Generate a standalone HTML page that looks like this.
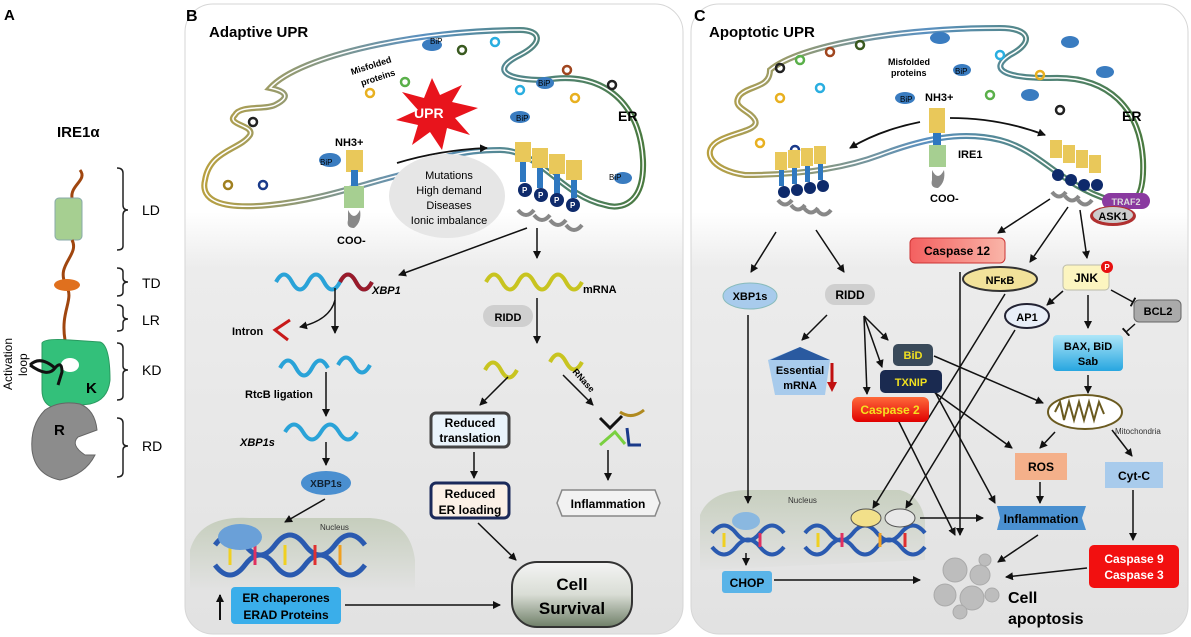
<!DOCTYPE html>
<html><head><meta charset="utf-8"><style>
html,body{margin:0;padding:0;background:#fff}
svg{display:block;font-family:"Liberation Sans",Arial,sans-serif}
</style></head><body>
<svg width="1191" height="637" viewBox="0 0 1191 637" xmlns="http://www.w3.org/2000/svg">
<defs>
<linearGradient id="pbg" x1="0" y1="0" x2="0" y2="1">
<stop offset="0" stop-color="#fff"/><stop offset="0.33" stop-color="#fff"/><stop offset="0.42" stop-color="#ececec"/><stop offset="1" stop-color="#e2e2e2"/></linearGradient>
<linearGradient id="nuc" x1="0" y1="0" x2="0" y2="1"><stop offset="0" stop-color="#c2cbb8"/><stop offset="1" stop-color="#e2e2e2"/></linearGradient>
<linearGradient id="surv" x1="0" y1="0" x2="0" y2="1"><stop offset="0" stop-color="#f4f4f4"/><stop offset="0.5" stop-color="#d9ddd5"/><stop offset="1" stop-color="#6f7f68"/></linearGradient>
<linearGradient id="red" x1="0" y1="0" x2="0" y2="1"><stop offset="0" stop-color="#ff6a3a"/><stop offset="1" stop-color="#e00000"/></linearGradient>
<linearGradient id="c12" x1="0" y1="0" x2="1" y2="0"><stop offset="0" stop-color="#f46060"/><stop offset="1" stop-color="#f9b5a8"/></linearGradient>
<linearGradient id="blu" x1="0" y1="0" x2="0" y2="1"><stop offset="0" stop-color="#aee6f8"/><stop offset="1" stop-color="#27a6e0"/></linearGradient>
<linearGradient id="erg" x1="0" y1="0" x2="1" y2="0"><stop offset="0" stop-color="#b8a040"/><stop offset="0.5" stop-color="#5a90c0"/><stop offset="1" stop-color="#4a7a40"/></linearGradient>
<marker id="a" markerWidth="8" markerHeight="8" refX="7" refY="4" orient="auto" markerUnits="userSpaceOnUse"><path d="M0,0 L8,4 L0,8 Z" fill="#111"/></marker>
<marker id="t" markerWidth="2" markerHeight="10" refX="1" refY="5" orient="auto" markerUnits="userSpaceOnUse"><rect width="2" height="10" fill="#111"/></marker>
</defs>

<!-- Panel A -->
<text x="4" y="20" font-size="15" font-weight="bold">A</text>
<text x="57" y="137" font-size="15" font-weight="bold">IRE1α</text>
<path d="M80,170 C88,180 70,185 72,198" stroke="#a0460f" stroke-width="3" fill="none"/>
<rect x="55" y="198" width="27" height="42" rx="4" fill="#a6cf91" stroke="#8aa"/>
<path d="M72,240 C80,255 55,265 66,285 C75,300 60,310 65,340" stroke="#a0460f" stroke-width="3" fill="none"/>
<ellipse cx="67" cy="285" rx="13" ry="6" fill="#e0701e"/>
<path d="M42,343 Q45,338 70,340 L100,342 Q110,345 110,380 Q108,400 90,404 L55,408 Q42,405 42,390 Z" fill="#33c07a" stroke="#2a9a60"/>
<ellipse cx="70" cy="365" rx="9" ry="7" fill="#fff"/>
<path d="M30,365 Q40,355 55,368 Q48,378 30,365 M55,368 Q62,360 62,372 L58,385" stroke="#111" stroke-width="3" fill="none"/>
<text x="86" y="393" font-size="15" font-weight="bold">K</text>
<path d="M45,410 Q60,400 80,404 Q95,410 97,430 L78,437 Q70,445 85,455 L95,455 Q85,475 60,480 Q35,475 32,450 Q30,425 45,410 Z" fill="#8c8c8c" stroke="#666"/>
<text x="54" y="435" font-size="15" font-weight="bold">R</text>
<text transform="translate(12,390) rotate(-90)" font-size="12">Activation</text>
<text transform="translate(27,376) rotate(-90)" font-size="12">loop</text>
<g stroke="#222" stroke-width="1.5" fill="none">
<path d="M117,168 Q123,168 123,173 V205 Q123,210 128,210 Q123,210 123,215 V246 Q123,250 117,250"/>
<path d="M117,268 Q123,268 123,272 V278 Q123,282 128,282 Q123,282 123,286 V292 Q123,296 117,296"/>
<path d="M117,305 Q123,305 123,309 V315 Q123,319 128,319 Q123,319 123,323 V328 Q123,331 117,331"/>
<path d="M117,343 Q123,343 123,348 V366 Q123,370 128,370 Q123,370 123,374 V396 Q123,400 117,400"/>
<path d="M117,418 Q123,418 123,423 V442 Q123,446 128,446 Q123,446 123,450 V472 Q123,477 117,477"/>
</g>
<g font-size="14"><text x="142" y="215">LD</text><text x="142" y="288">TD</text><text x="142" y="325">LR</text><text x="142" y="375">KD</text><text x="142" y="451">RD</text></g>

<!-- Panel backgrounds -->
<rect x="185" y="4" width="498" height="630" rx="28" fill="url(#pbg)" stroke="#d6d6d6"/>
<rect x="691" y="4" width="497" height="630" rx="28" fill="url(#pbg)" stroke="#d6d6d6"/>
<text x="186" y="21" font-size="16" font-weight="bold">B</text>
<text x="209" y="37" font-size="15" font-weight="bold">Adaptive UPR</text>
<!-- ER B -->
<path id="erB" d="M270,88 C300,55 420,30 520,30 C540,30 545,42 520,55 C490,70 505,80 545,80 C600,70 640,100 643,160 C645,205 620,210 605,205 C560,195 540,150 500,150 C440,150 420,170 400,175 C360,185 320,200 270,205 C220,210 200,200 205,180 C210,150 240,150 250,135 C255,125 225,125 235,115 C240,105 265,110 275,105 C295,95 280,90 270,88 Z" fill="#fff" stroke="url(#erg)" stroke-width="6"/>
<path d="M270,88 C300,55 420,30 520,30 C540,30 545,42 520,55 C490,70 505,80 545,80 C600,70 640,100 643,160 C645,205 620,210 605,205 C560,195 540,150 500,150 C440,150 420,170 400,175 C360,185 320,200 270,205 C220,210 200,200 205,180 C210,150 240,150 250,135 C255,125 225,125 235,115 C240,105 265,110 275,105 C295,95 280,90 270,88 Z" fill="none" stroke="#fff" stroke-width="1.5"/>
<text transform="translate(352,75) rotate(-18)" font-size="9" font-weight="bold">Misfolded</text>
<text transform="translate(362,86) rotate(-18)" font-size="9" font-weight="bold">proteins</text>
<polygon points="432,78 440,95 462,85 452,102 478,108 455,118 470,135 447,128 442,150 430,132 412,145 418,125 396,120 418,110 402,92 424,98" fill="#e8141c"/>
<text x="414" y="118" font-size="14" font-weight="bold" fill="#fff">UPR</text>
<text x="618" y="121" font-size="14" font-weight="bold">ER</text>
<text x="335" y="146" font-size="11" font-weight="bold">NH3+</text>
<rect x="346" y="150" width="17" height="22" fill="#e9c85a"/><rect x="351" y="170" width="7" height="16" fill="#2f78c0"/>
<rect x="344" y="186" width="20" height="22" fill="#a6cf91"/>
<path d="M348,210 q6,12 12,0 q2,12 -6,18 q-8,0 -6,-8" fill="#888"/>
<text x="337" y="244" font-size="11" font-weight="bold">COO-</text>
<ellipse cx="330" cy="160" rx="11" ry="7" fill="#3a7cc0"/><text x="320" y="165" font-size="8">BiP</text>
<path d="M397,163 Q440,150 487,148" stroke="#111" stroke-width="1.8" fill="none" marker-end="url(#a)"/>
<ellipse cx="447" cy="196" rx="58" ry="42" fill="#e6e6e6"/>
<g font-size="11" text-anchor="middle"><text x="449" y="179">Mutations</text><text x="449" y="194">High demand</text><text x="449" y="209">Diseases</text><text x="449" y="224">Ionic imbalance</text></g>
<g>
<rect x="515" y="142" width="16" height="20" fill="#e9c85a"/><rect x="532" y="148" width="16" height="20" fill="#e9c85a"/><rect x="549" y="154" width="16" height="20" fill="#e9c85a"/><rect x="566" y="160" width="16" height="20" fill="#e9c85a"/>
<rect x="520" y="162" width="6" height="20" fill="#2f78c0"/><rect x="537" y="168" width="6" height="20" fill="#2f78c0"/><rect x="554" y="174" width="6" height="20" fill="#2f78c0"/><rect x="571" y="180" width="6" height="18" fill="#2f78c0"/>
<circle cx="525" cy="190" r="7" fill="#0e2a6b"/><circle cx="541" cy="195" r="7" fill="#0e2a6b"/><circle cx="557" cy="200" r="7" fill="#0e2a6b"/><circle cx="573" cy="205" r="7" fill="#0e2a6b"/>
<g fill="#fff" font-size="8" font-weight="bold"><text x="522" y="193">P</text><text x="538" y="198">P</text><text x="554" y="203">P</text><text x="570" y="208">P</text></g>
<path d="M518,210 q8,10 16,0 M534,215 q8,10 16,0 M550,220 q8,10 16,0 M566,225 q8,10 16,0" stroke="#888" stroke-width="4" fill="none"/>
</g>
<g font-size="8"><ellipse cx="432" cy="45" rx="10" ry="6" fill="#3a7cc0"/><text x="430" y="44">BiP</text>
<ellipse cx="545" cy="83" rx="9" ry="6" fill="#3a7cc0"/><text x="538" y="86">BiP</text>
<ellipse cx="520" cy="117" rx="10" ry="6" fill="#3a7cc0"/><text x="516" y="121">BiP</text>
<ellipse cx="623" cy="178" rx="9" ry="6" fill="#3a7cc0"/><text x="609" y="180">BiP</text></g>
<g fill="none" stroke-width="2.5"><circle cx="462" cy="50" r="4" stroke="#3a5a20"/><circle cx="495" cy="42" r="4" stroke="#2aaee0"/><circle cx="405" cy="82" r="4" stroke="#5ab04a"/><circle cx="370" cy="93" r="4" stroke="#e8b020"/><circle cx="253" cy="122" r="4" stroke="#222"/><circle cx="228" cy="185" r="4" stroke="#a08020"/><circle cx="263" cy="185" r="4" stroke="#1a3a8a"/><circle cx="520" cy="90" r="4" stroke="#2aaee0"/><circle cx="575" cy="98" r="4" stroke="#e8b020"/><circle cx="612" cy="85" r="4" stroke="#222"/><circle cx="567" cy="70" r="4" stroke="#a0461f"/></g>
<!-- B lower -->
<path d="M190,590 L190,550 Q200,515 250,518 L370,518 Q410,520 415,560 L415,590 Z" fill="url(#nuc)" opacity="0.9"/>
<line x1="527" y1="228" x2="399" y2="275" stroke="#111" stroke-width="1.5" marker-end="url(#a)"/>
<line x1="537" y1="228" x2="537" y2="258" stroke="#111" stroke-width="1.5" marker-end="url(#a)"/>
<path d="M276,282 q8,-15 16,0 t16,0 t16,0 t16,0 t16,0 t16,0" stroke="#2aa3d8" stroke-width="4" fill="none"/>
<path d="M340,282 q8,-15 16,0 t16,0" stroke="#9a1a2a" stroke-width="4" fill="none"/>
<text x="372" y="294" font-size="11" font-weight="bold" font-style="italic">XBP1</text>
<path d="M486,282 q8,-15 16,0 t16,0 t16,0 t16,0 t16,0 t16,0" stroke="#c8c420" stroke-width="4" fill="none"/>
<text x="583" y="293" font-size="11" font-weight="bold">mRNA</text>
<rect x="483" y="305" width="50" height="22" rx="11" fill="#cfcfcf"/><text x="508" y="321" font-size="11" font-weight="bold" text-anchor="middle">RIDD</text>
<line x1="537" y1="298" x2="537" y2="343" stroke="#111" stroke-width="1.5" marker-end="url(#a)"/>
<path d="M485,370 q8,-15 16,0 t16,0" stroke="#c8c420" stroke-width="4" fill="none"/><path d="M550,362 q8,-15 16,0 t16,0" stroke="#c8c420" stroke-width="4" fill="none"/>
<line x1="335" y1="288" x2="335" y2="333" stroke="#111" stroke-width="1.5" marker-end="url(#a)"/>
<path d="M335,300 Q330,320 300,327" stroke="#111" stroke-width="1.5" fill="none" marker-end="url(#a)"/>
<text x="232" y="335" font-size="11" font-weight="bold">Intron</text>
<path d="M290,320 L275,330 L288,340" stroke="#c81a1a" stroke-width="3" fill="none"/>
<path d="M280,368 q8,-15 16,0 t16,0 t16,0" stroke="#2aa3d8" stroke-width="4" fill="none"/><path d="M338,365 q8,-15 16,0 t16,0" stroke="#2aa3d8" stroke-width="4" fill="none"/>
<line x1="326" y1="372" x2="326" y2="416" stroke="#111" stroke-width="1.5" marker-end="url(#a)"/>
<text x="245" y="398" font-size="11" font-weight="bold">RtcB ligation</text>
<path d="M285,432 q9,-15 18,0 t18,0 t18,0 t18,0" stroke="#2aa3d8" stroke-width="4" fill="none"/>
<text x="240" y="446" font-size="11" font-weight="bold" font-style="italic">XBP1s</text>
<line x1="326" y1="442" x2="326" y2="465" stroke="#111" stroke-width="1.5" marker-end="url(#a)"/>
<ellipse cx="326" cy="483" rx="25" ry="12" fill="#4a8fd0"/><text x="326" y="487" font-size="10" font-weight="bold" text-anchor="middle" fill="#123">XBP1s</text>
<line x1="325" y1="499" x2="285" y2="522" stroke="#111" stroke-width="1.5" marker-end="url(#a)"/>
<text x="320" y="530" font-size="8" fill="#333">Nucleus</text>
<path d="M215,545 q15,-20 30,0 t30,0 t30,0 t30,0 t30,0 M215,565 q15,20 30,0 t30,0 t30,0 t30,0 t30,0" stroke="#2a5ab0" stroke-width="5" fill="none"/>
<g stroke-width="3"><line x1="230" y1="545" x2="230" y2="565" stroke="#f0d020"/><line x1="255" y1="545" x2="255" y2="565" stroke="#e03060"/><line x1="285" y1="545" x2="285" y2="565" stroke="#f0d020"/><line x1="315" y1="545" x2="315" y2="565" stroke="#e03030"/><line x1="340" y1="545" x2="340" y2="565" stroke="#f0a020"/></g>
<ellipse cx="240" cy="537" rx="22" ry="13" fill="#6aa0d8"/>
<rect x="231" y="587" width="110" height="37" rx="4" fill="#3aaeea"/>
<g font-size="12" font-weight="bold" text-anchor="middle"><text x="286" y="602">ER chaperones</text><text x="286" y="619">ERAD Proteins</text></g>
<line x1="220" y1="620" x2="220" y2="595" stroke="#111" stroke-width="2" marker-end="url(#a)"/>
<line x1="345" y1="605" x2="500" y2="605" stroke="#111" stroke-width="1.5" marker-end="url(#a)"/>
<line x1="508" y1="377" x2="480" y2="405" stroke="#111" stroke-width="1.5" marker-end="url(#a)"/>
<rect x="431" y="413" width="78" height="34" rx="5" fill="#eaf4fb" stroke="#444" stroke-width="3"/>
<g font-size="12" font-weight="bold" text-anchor="middle"><text x="470" y="427">Reduced</text><text x="470" y="442">translation</text></g>
<line x1="474" y1="452" x2="474" y2="478" stroke="#111" stroke-width="1.5" marker-end="url(#a)"/>
<rect x="431" y="483" width="78" height="35" rx="5" fill="#fbf0e6" stroke="#1c2a5a" stroke-width="3"/>
<g font-size="12" font-weight="bold" text-anchor="middle"><text x="470" y="498">Reduced</text><text x="470" y="514">ER loading</text></g>
<line x1="478" y1="523" x2="516" y2="560" stroke="#111" stroke-width="1.5" marker-end="url(#a)"/>
<rect x="512" y="562" width="120" height="65" rx="25" fill="url(#surv)" stroke="#333" stroke-width="2"/>
<g font-size="17" font-weight="bold" text-anchor="middle"><text x="572" y="590">Cell</text><text x="572" y="614">Survival</text></g>
<line x1="563" y1="375" x2="593" y2="405" stroke="#111" stroke-width="1.5" marker-end="url(#a)"/>
<text transform="translate(572,372) rotate(48)" font-size="9" font-weight="bold">RNase</text>
<path d="M600,418 l10,10 l12,-12" stroke="#111" stroke-width="3" fill="none"/><path d="M620,412 q12,8 24,-2" stroke="#b08a20" stroke-width="3" fill="none"/><path d="M600,445 l15,-13 l10,12" stroke="#7ad040" stroke-width="3" fill="none"/><path d="M627,428 l2,17 l12,0" stroke="#1a3a8a" stroke-width="3" fill="none"/>
<line x1="608" y1="450" x2="608" y2="480" stroke="#111" stroke-width="1.5" marker-end="url(#a)"/>
<polygon points="562,490 655,490 660,503 655,516 562,516 557,503" fill="#f2f2f2" stroke="#888" stroke-width="1.5"/>
<text x="608" y="508" font-size="12" font-weight="bold" text-anchor="middle">Inflammation</text>

<!-- Panel C -->
<text x="694" y="21" font-size="16" font-weight="bold">C</text>
<text x="709" y="37" font-size="15" font-weight="bold">Apoptotic UPR</text>
<path d="M770,70 C800,45 900,28 1000,28 C1030,28 1035,42 1010,55 C990,68 1000,78 1050,78 C1110,75 1140,110 1143,160 C1145,205 1130,208 1110,200 C1060,185 1040,150 1000,140 C960,130 920,140 880,155 C840,170 790,175 745,175 C710,170 700,150 720,140 C735,132 760,130 755,120 C750,110 730,108 740,95 C750,85 770,88 770,70 Z" fill="#fff" stroke="url(#erg)" stroke-width="6"/>
<path d="M770,70 C800,45 900,28 1000,28 C1030,28 1035,42 1010,55 C990,68 1000,78 1050,78 C1110,75 1140,110 1143,160 C1145,205 1130,208 1110,200 C1060,185 1040,150 1000,140 C960,130 920,140 880,155 C840,170 790,175 745,175 C710,170 700,150 720,140 C735,132 760,130 755,120 C750,110 730,108 740,95 C750,85 770,88 770,70 Z" fill="none" stroke="#fff" stroke-width="1.5"/>
<text x="1122" y="121" font-size="14" font-weight="bold">ER</text>
<text x="888" y="65" font-size="9" font-weight="bold">Misfolded</text><text x="891" y="76" font-size="9" font-weight="bold">proteins</text>
<text x="925" y="101" font-size="11" font-weight="bold">NH3+</text>
<rect x="929" y="108" width="16" height="25" fill="#e9c85a"/><rect x="933" y="133" width="8" height="12" fill="#2f78c0"/>
<rect x="929" y="145" width="17" height="22" fill="#a6cf91"/>
<path d="M932,170 q6,12 12,0 q2,12 -6,18 q-8,0 -6,-8" fill="#888"/>
<text x="958" y="158" font-size="11" font-weight="bold">IRE1</text>
<text x="930" y="202" font-size="11" font-weight="bold">COO-</text>
<path d="M920,122 Q880,130 850,148" stroke="#111" stroke-width="1.8" fill="none" marker-end="url(#a)"/>
<path d="M950,118 Q1000,118 1045,135" stroke="#111" stroke-width="1.8" fill="none" marker-end="url(#a)"/>
<g font-size="8"><ellipse cx="940" cy="38" rx="10" ry="6" fill="#3a7cc0"/><ellipse cx="962" cy="70" rx="9" ry="6" fill="#3a7cc0"/><text x="955" y="74">BiP</text><ellipse cx="905" cy="98" rx="10" ry="6" fill="#3a7cc0"/><text x="900" y="102">BiP</text><ellipse cx="1030" cy="95" rx="9" ry="6" fill="#3a7cc0"/><ellipse cx="1105" cy="72" rx="9" ry="6" fill="#3a7cc0"/><ellipse cx="1070" cy="42" rx="9" ry="6" fill="#3a7cc0"/></g>
<g fill="none" stroke-width="2.5"><circle cx="780" cy="68" r="4" stroke="#222"/><circle cx="800" cy="60" r="4" stroke="#5ab04a"/><circle cx="830" cy="52" r="4" stroke="#a0461f"/><circle cx="860" cy="45" r="4" stroke="#3a5a20"/><circle cx="780" cy="98" r="4" stroke="#e8b020"/><circle cx="820" cy="88" r="4" stroke="#2aaee0"/><circle cx="760" cy="143" r="4" stroke="#e8b020"/><circle cx="795" cy="150" r="4" stroke="#1a3a8a"/><circle cx="1000" cy="55" r="4" stroke="#2aaee0"/><circle cx="1040" cy="75" r="4" stroke="#e8b020"/><circle cx="1060" cy="110" r="4" stroke="#222"/><circle cx="990" cy="95" r="4" stroke="#5ab04a"/></g>
<g>
<rect x="775" y="152" width="12" height="18" fill="#e9c85a"/><rect x="788" y="150" width="12" height="18" fill="#e9c85a"/><rect x="801" y="148" width="12" height="18" fill="#e9c85a"/><rect x="814" y="146" width="12" height="18" fill="#e9c85a"/>
<rect x="779" y="170" width="5" height="16" fill="#2f78c0"/><rect x="792" y="168" width="5" height="16" fill="#2f78c0"/><rect x="805" y="166" width="5" height="16" fill="#2f78c0"/><rect x="818" y="164" width="5" height="16" fill="#2f78c0"/>
<circle cx="784" cy="192" r="6" fill="#0e2a6b"/><circle cx="797" cy="190" r="6" fill="#0e2a6b"/><circle cx="810" cy="188" r="6" fill="#0e2a6b"/><circle cx="823" cy="186" r="6" fill="#0e2a6b"/>
<path d="M778,200 q7,9 14,0 M791,205 q7,9 14,0 M804,208 q7,9 14,0 M817,210 q7,9 14,0" stroke="#888" stroke-width="4" fill="none"/>
</g>
<g>
<rect x="1050" y="140" width="12" height="18" fill="#e9c85a"/><rect x="1063" y="145" width="12" height="18" fill="#e9c85a"/><rect x="1076" y="150" width="12" height="18" fill="#e9c85a"/><rect x="1089" y="155" width="12" height="18" fill="#e9c85a"/>
<circle cx="1058" cy="175" r="6" fill="#0e2a6b"/><circle cx="1071" cy="180" r="6" fill="#0e2a6b"/><circle cx="1084" cy="185" r="6" fill="#0e2a6b"/><circle cx="1097" cy="185" r="6" fill="#0e2a6b"/>
<path d="M1052,192 q7,9 14,0 M1065,196 q7,9 14,0 M1078,200 q7,9 14,0" stroke="#888" stroke-width="4" fill="none"/>
</g>
<rect x="1102" y="193" width="48" height="16" rx="8" fill="#8a3aa0"/><text x="1126" y="205" font-size="9" font-weight="bold" fill="#ddd" text-anchor="middle">TRAF2</text>
<ellipse cx="1113" cy="216" rx="23" ry="10" fill="#b03030"/><ellipse cx="1113" cy="215" rx="20" ry="8" fill="#ccc"/><text x="1113" y="220" font-size="11" font-weight="bold" text-anchor="middle">ASK1</text>
<!-- nucleus C (behind arrows) -->
<path d="M700,570 L700,515 Q710,490 750,490 L900,490 Q920,495 925,520 L925,560 Z" fill="url(#nuc)" opacity="0.85"/>
<text x="788" y="503" font-size="8" fill="#333">Nucleus</text>
<g stroke="#111" stroke-width="1.5" fill="none">
<line x1="776" y1="232" x2="751" y2="272" marker-end="url(#a)"/>
<line x1="816" y1="230" x2="844" y2="272" marker-end="url(#a)"/>
<line x1="1050" y1="199" x2="998" y2="233" marker-end="url(#a)"/>
<line x1="1068" y1="207" x2="1030" y2="262" marker-end="url(#a)"/>
<line x1="1080" y1="210" x2="1087" y2="258" marker-end="url(#a)"/>
<line x1="748" y1="315" x2="748" y2="503" marker-end="url(#a)"/>
<line x1="827" y1="315" x2="802" y2="340" marker-end="url(#a)"/>
<line x1="864" y1="316" x2="888" y2="340" marker-end="url(#a)"/>
<line x1="864" y1="316" x2="882" y2="367" marker-end="url(#a)"/>
<line x1="864" y1="316" x2="867" y2="394" marker-end="url(#a)"/>
<line x1="960" y1="272" x2="960" y2="535" marker-end="url(#a)"/>
<line x1="1005" y1="294" x2="873" y2="508" marker-end="url(#a)"/>
<line x1="1015" y1="330" x2="906" y2="508" marker-end="url(#a)"/>
<line x1="1063" y1="291" x2="1047" y2="305" marker-end="url(#a)"/>
<line x1="1088" y1="295" x2="1088" y2="328" marker-end="url(#a)"/>
<line x1="1111" y1="290" x2="1133" y2="302" marker-end="url(#t)"/>
<line x1="1135" y1="324" x2="1126" y2="332" marker-end="url(#t)"/>
<line x1="1088" y1="375" x2="1088" y2="393" marker-end="url(#a)"/>
<line x1="934" y1="356" x2="1043" y2="403" marker-end="url(#a)"/>
<line x1="934" y1="392" x2="1012" y2="448" marker-end="url(#a)"/>
<line x1="935" y1="392" x2="995" y2="503" marker-end="url(#a)"/>
<line x1="898" y1="420" x2="955" y2="535" marker-end="url(#a)"/>
<line x1="1055" y1="432" x2="1040" y2="448" marker-end="url(#a)"/>
<line x1="1112" y1="430" x2="1132" y2="456" marker-end="url(#a)"/>
<line x1="1040" y1="482" x2="1040" y2="503" marker-end="url(#a)"/>
<line x1="1133" y1="490" x2="1133" y2="540" marker-end="url(#a)"/>
<line x1="920" y1="518" x2="983" y2="518" marker-end="url(#a)"/>
<line x1="1038" y1="535" x2="998" y2="562" marker-end="url(#a)"/>
<line x1="1087" y1="568" x2="1006" y2="577" marker-end="url(#a)"/>
<line x1="746" y1="553" x2="746" y2="565" marker-end="url(#a)"/>
<line x1="774" y1="580" x2="920" y2="580" marker-end="url(#a)"/>
</g>
<rect x="910" y="238" width="95" height="25" rx="5" fill="url(#c12)" stroke="#c33"/>
<text x="957" y="255" font-size="12" font-weight="bold" text-anchor="middle">Caspase 12</text>
<ellipse cx="1000" cy="279" rx="37" ry="12" fill="#f2e29a" stroke="#333" stroke-width="2"/><text x="1000" y="284" font-size="11" font-weight="bold" text-anchor="middle">NFκB</text>
<rect x="1063" y="265" width="46" height="25" rx="4" fill="#fcf5c0" stroke="#bba"/><text x="1086" y="282" font-size="12" font-weight="bold" text-anchor="middle">JNK</text>
<circle cx="1107" cy="267" r="6" fill="#e81010"/><text x="1107" y="270" font-size="8" fill="#fff" font-weight="bold" text-anchor="middle">P</text>
<ellipse cx="1027" cy="316" rx="22" ry="12" fill="#e8eef8" stroke="#223" stroke-width="2"/><text x="1027" y="321" font-size="11" font-weight="bold" text-anchor="middle">AP1</text>
<rect x="1134" y="300" width="47" height="22" rx="5" fill="#aaa" stroke="#666"/><text x="1158" y="315" font-size="11" font-weight="bold" text-anchor="middle">BCL2</text>
<rect x="1053" y="335" width="70" height="36" rx="4" fill="url(#blu)"/><g font-size="11" font-weight="bold" text-anchor="middle"><text x="1088" y="350">BAX, BiD</text><text x="1088" y="365">Sab</text></g>
<ellipse cx="750" cy="296" rx="27" ry="13" fill="#a8cbec" stroke="#8bb"/><text x="750" y="300" font-size="11" font-weight="bold" text-anchor="middle">XBP1s</text>
<rect x="825" y="284" width="50" height="21" rx="10" fill="#cfcfcf"/><text x="850" y="299" font-size="12" font-weight="bold" text-anchor="middle">RIDD</text>
<polygon points="800,347 830,360 825,395 775,395 768,360" fill="#a8cbec"/><path d="M770,360 L800,347 L830,360 Z" fill="#2a5aa0"/>
<g font-size="11" font-weight="bold" text-anchor="middle"><text x="800" y="374">Essential</text><text x="800" y="389">mRNA</text></g>
<path d="M832,363 L832,385" stroke="#c01010" stroke-width="3"/><path d="M827,382 L837,382 L832,392 Z" fill="#c01010"/>
<rect x="893" y="344" width="40" height="22" rx="5" fill="#3a4a5a"/><text x="913" y="359" font-size="11" font-weight="bold" fill="#f0e020" text-anchor="middle">BiD</text>
<rect x="880" y="370" width="62" height="23" rx="5" fill="#1a2a50"/><text x="911" y="386" font-size="11" font-weight="bold" fill="#f0e020" text-anchor="middle">TXNIP</text>
<rect x="852" y="397" width="77" height="25" rx="6" fill="url(#red)"/><text x="890" y="414" font-size="12" font-weight="bold" fill="#f6e020" text-anchor="middle">Caspase 2</text>
<ellipse cx="1085" cy="412" rx="37" ry="17" fill="#fff" stroke="#6a5a20" stroke-width="2"/><path d="M1055,412 l5,-10 l4,18 l5,-18 l5,18 l5,-18 l5,18 l5,-18 l5,18 l5,-18 l5,12" stroke="#6a5a20" stroke-width="2" fill="none"/>
<text x="1115" y="434" font-size="8" fill="#333">Mitochondria</text>
<rect x="1015" y="453" width="52" height="27" fill="#f4b08a"/><text x="1041" y="471" font-size="12" font-weight="bold" text-anchor="middle">ROS</text>
<rect x="1105" y="462" width="58" height="26" fill="#a8cbec"/><text x="1134" y="480" font-size="12" font-weight="bold" text-anchor="middle">Cyt-C</text>
<path d="M712,533 q12,-15 24,0 t24,0 t24,0 M712,547 q12,15 24,0 t24,0 t24,0" stroke="#2a5ab0" stroke-width="4" fill="none"/>
<path d="M805,533 q12,-15 24,0 t24,0 t24,0 t24,0 t24,0 M805,547 q12,15 24,0 t24,0 t24,0 t24,0 t24,0" stroke="#2a5ab0" stroke-width="4" fill="none"/>
<g stroke-width="3"><line x1="724" y1="533" x2="724" y2="547" stroke="#f0d020"/><line x1="760" y1="533" x2="760" y2="547" stroke="#e03060"/><line x1="818" y1="533" x2="818" y2="547" stroke="#f0d020"/><line x1="842" y1="533" x2="842" y2="547" stroke="#e03060"/><line x1="880" y1="533" x2="880" y2="547" stroke="#f0a020"/><line x1="905" y1="533" x2="905" y2="547" stroke="#e03030"/></g>
<ellipse cx="746" cy="521" rx="14" ry="9" fill="#8ab8e0"/>
<ellipse cx="866" cy="518" rx="15" ry="9" fill="#f2e08a" stroke="#555"/><ellipse cx="900" cy="518" rx="15" ry="9" fill="#e8e8e8" stroke="#555"/>
<polygon points="997,506 1086,506 1082,518 1086,530 997,530 1000,518" fill="#4a90d0"/><text x="1041" y="523" font-size="12" font-weight="bold" text-anchor="middle">Inflammation</text>
<rect x="1089" y="545" width="90" height="43" rx="5" fill="#f21010"/><g font-size="12" font-weight="bold" fill="#fff" text-anchor="middle"><text x="1134" y="563">Caspase 9</text><text x="1134" y="579">Caspase 3</text></g>
<rect x="722" y="571" width="50" height="22" rx="3" fill="#5ab4e8"/><text x="747" y="587" font-size="12" font-weight="bold" text-anchor="middle">CHOP</text>
<g fill="#bdbdbd" stroke="#aaa"><circle cx="955" cy="570" r="12"/><circle cx="980" cy="575" r="10"/><circle cx="945" cy="595" r="11"/><circle cx="972" cy="598" r="12"/><circle cx="992" cy="595" r="7"/><circle cx="960" cy="612" r="7"/><circle cx="985" cy="560" r="6"/></g>
<g font-size="16" font-weight="bold"><text x="1008" y="603">Cell</text><text x="1008" y="624">apoptosis</text></g>
</svg>
</body></html>
